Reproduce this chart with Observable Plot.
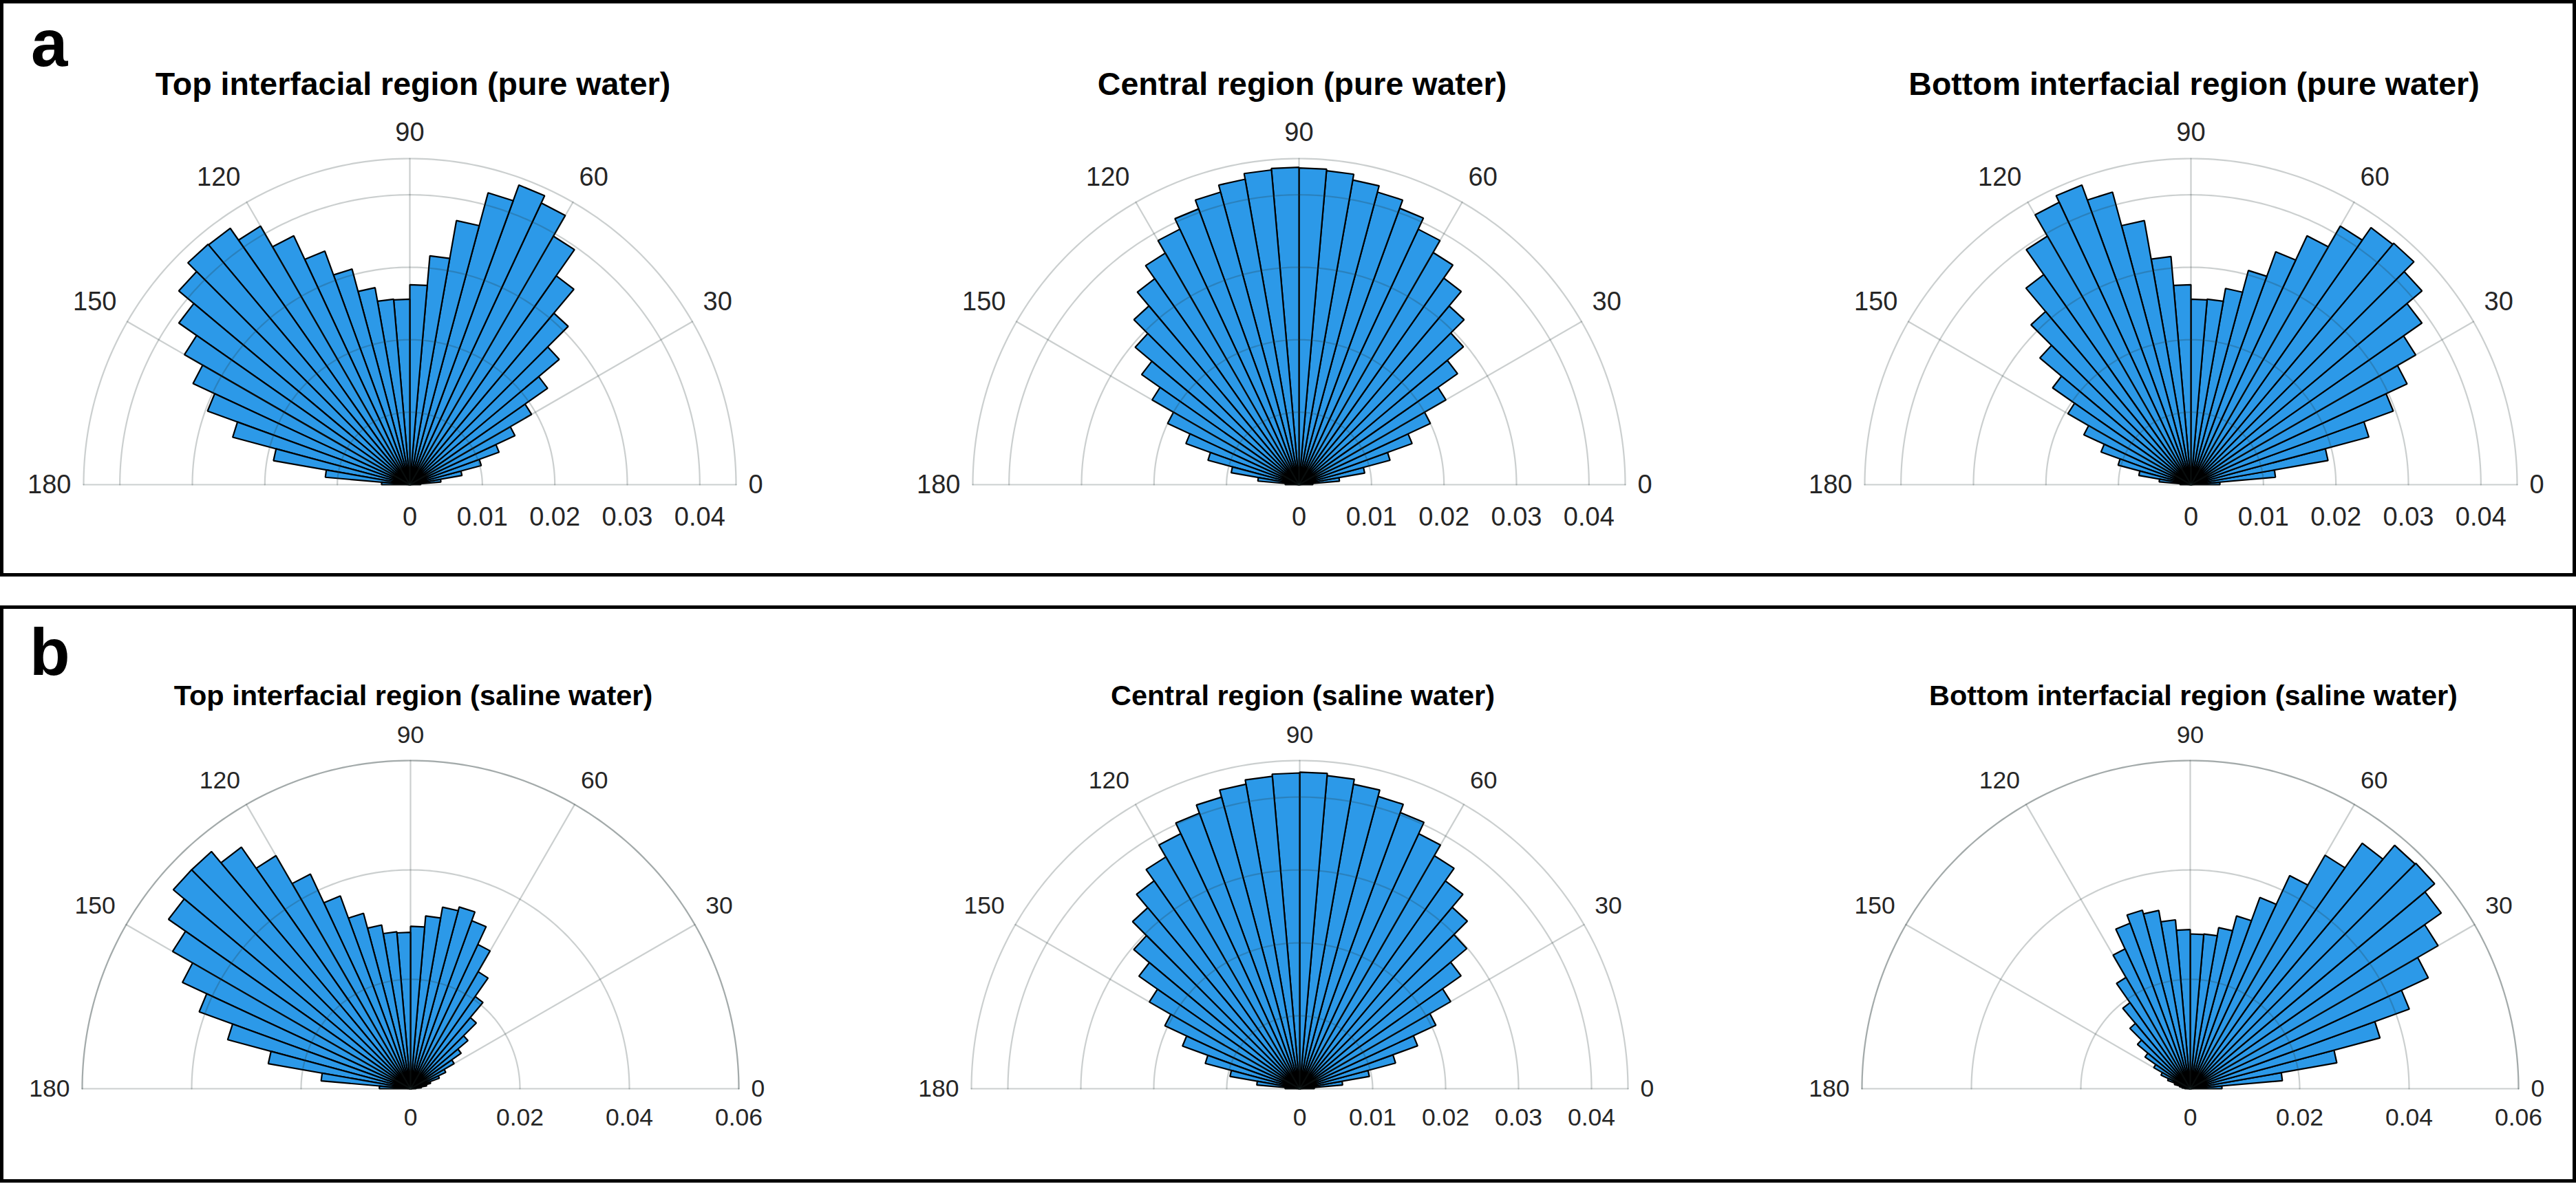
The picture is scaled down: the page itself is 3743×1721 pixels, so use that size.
<!DOCTYPE html>
<html>
<head>
<meta charset="utf-8">
<script src="https://cdn.jsdelivr.net/npm/d3@7"></script>
<script src="https://cdn.jsdelivr.net/npm/@observablehq/plot@0.6"></script>
<style>
  html, body { margin: 0; padding: 0; background: #fff; }
  body { width: 3743px; height: 1721px; position: relative; overflow: hidden;
         font-family: "Liberation Sans", Arial, Helvetica, sans-serif; }
  .box { position: absolute; left: 0; width: 3743px; box-sizing: border-box; border: 5px solid #000; }
  .panel { position: absolute; font-weight: bold; font-size: 96px; line-height: 1; color: #000; }
  .title { position: absolute; font-weight: bold; white-space: nowrap; line-height: 1; color: #000;
           transform: translateX(-50%); }
  .plot { position: absolute; }
  .plot svg { display: block; max-width: none !important; }
</style>
</head>
<body>
<script>
// ---------------- data ----------------
// bin start angles (degrees); each bin is 5 degrees wide
const binStart = [0, 5, 10, 15, 20, 25, 30, 35, 40, 45, 50, 55, 60, 65, 70, 75, 80, 85,
                  90, 95, 100, 105, 110, 115, 120, 125, 130, 135, 140, 145, 150, 155, 160, 165, 170, 175];
const binWidth = 5;

// probabilities per bin (pure water)
const topPure = [0.0015, 0.0043, 0.0073, 0.0102, 0.0131, 0.0160, 0.0194, 0.0232, 0.0269, 0.0309, 0.0352, 0.0396,
                 0.0429, 0.0440, 0.0417, 0.0370, 0.0317, 0.0276, 0.0256, 0.0257, 0.0276, 0.0308, 0.0343, 0.0379,
                 0.0412, 0.0432, 0.0433, 0.0416, 0.0389, 0.0359, 0.0330, 0.0297, 0.0253, 0.0191, 0.0117, 0.0039];
const centralPure = [0.0019, 0.0056, 0.0092, 0.0130, 0.0166, 0.0200, 0.0234, 0.0267, 0.0296, 0.0322, 0.0348, 0.0370,
                     0.0389, 0.0406, 0.0418, 0.0427, 0.0435, 0.0437, 0.0438, 0.0436, 0.0428, 0.0418, 0.0405, 0.0389,
                     0.0369, 0.0347, 0.0322, 0.0295, 0.0265, 0.0234, 0.0200, 0.0166, 0.0130, 0.0095, 0.0057, 0.0019];
const bottomPure = [0.0040, 0.0117, 0.0192, 0.0254, 0.0297, 0.0329, 0.0358, 0.0389, 0.0416, 0.0435, 0.0433, 0.0412,
                    0.0379, 0.0342, 0.0306, 0.0275, 0.0257, 0.0256, 0.0276, 0.0316, 0.0370, 0.0418, 0.0440, 0.0430,
                    0.0396, 0.0354, 0.0312, 0.0272, 0.0233, 0.0196, 0.0163, 0.0132, 0.0104, 0.0073, 0.0044, 0.0015];
// probabilities per bin (saline water)
const topSaline = [0.0010, 0.0020, 0.0030, 0.0038, 0.0056, 0.0071, 0.0092, 0.0113, 0.0137, 0.0170, 0.0206, 0.0247,
                   0.0291, 0.0327, 0.0344, 0.0337, 0.0317, 0.0297, 0.0286, 0.0288, 0.0304, 0.0332, 0.0375, 0.0433,
                   0.0492, 0.0539, 0.0566, 0.0566, 0.0540, 0.0502, 0.0460, 0.0411, 0.0346, 0.0264, 0.0164, 0.0057];
const centralSaline = [0.0020, 0.0059, 0.0097, 0.0136, 0.0172, 0.0206, 0.0239, 0.0270, 0.0299, 0.0325, 0.0348, 0.0369,
                       0.0386, 0.0403, 0.0415, 0.0424, 0.0431, 0.0434, 0.0433, 0.0430, 0.0424, 0.0414, 0.0402, 0.0386,
                       0.0367, 0.0348, 0.0324, 0.0297, 0.0269, 0.0238, 0.0204, 0.0171, 0.0134, 0.0097, 0.0059, 0.0020];
const bottomSaline = [0.0058, 0.0169, 0.0272, 0.0359, 0.0426, 0.0480, 0.0523, 0.0560, 0.0583, 0.0581, 0.0548, 0.0493,
                      0.0430, 0.0372, 0.0327, 0.0299, 0.0284, 0.0283, 0.0291, 0.0310, 0.0331, 0.0338, 0.0322, 0.0282,
                      0.0235, 0.0192, 0.0156, 0.0126, 0.0101, 0.0077, 0.0059, 0.0044, 0.0030, 0.0020, 0.0015, 0.0010];

const thetaTicks = [0, 30, 60, 90, 120, 150, 180];
const rTicksPure = [0, 0.01, 0.02, 0.03, 0.04];
const rTicksSaline = [0, 0.02, 0.04, 0.06];
const rLimPure = 0.045;
const rLimSaline = 0.06;

const panelLetters = ["a", "b"];
const titles = [
  ["Top interfacial region (pure water)", "Central region (pure water)", "Bottom interfacial region (pure water)"],
  ["Top interfacial region (saline water)", "Central region (saline water)", "Bottom interfacial region (saline water)"]
];
const series = [
  [topPure, centralPure, bottomPure],
  [topSaline, centralSaline, bottomSaline]
];
const rTicksByPlot = [
  [rTicksPure, rTicksPure, rTicksPure],
  [rTicksSaline, rTicksPure, rTicksSaline]
];
const rLimByPlot = [
  [rLimPure, rLimPure, rLimPure],
  [rLimSaline, rLimPure, rLimSaline]
];

// ---------------- layout / style ----------------
const FONT = '"Liberation Sans", Arial, Helvetica, sans-serif';
const BAR_FILL = "#2c99e8";
const GRID = "#243838";
const TEXT = "#262626";
const rows = [
  { boxTop: 0, boxH: 838, letterTop: 15, letterLeft: 45, titleBaseline: 138, titleFs: 46.5,
    cy: 703.5, R: 474, cxs: [595, 1887, 3183], fs: 38, tickDy: 47 },
  { boxTop: 880, boxH: 839, letterTop: 900, letterLeft: 43, titleBaseline: 1025, titleFs: 41.5,
    cy: 1581.5, R: 477, cxs: [595.5, 1888, 3182], fs: 35.5, tickDy: 42.5 }
];
const MX = 140, MT = 110, MB = 85;
const DEG = Math.PI / 180;

function arcPoints(r) {
  const pts = [];
  for (let a = 0; a <= 180; a += 1) pts.push([r * Math.cos(a * DEG), r * Math.sin(a * DEG)]);
  return pts;
}

function polarHistogram({values, rmax, rTicks, R, fs, tickDy}) {
  const bars = binStart.map((a0, i) => {
    const a1 = a0 + binWidth, r = values[i];
    return {type: "Polygon", coordinates: [[
      [0, 0],
      [r * Math.cos(a0 * DEG), r * Math.sin(a0 * DEG)],
      [r * Math.cos(a1 * DEG), r * Math.sin(a1 * DEG)],
      [0, 0]
    ]]};
  });
  const rings = rTicks.filter(t => t > 0).concat([rmax])
    .map(r => ({type: "LineString", coordinates: arcPoints(r)}));
  const spokes = thetaTicks.map(t => ({type: "LineString",
    coordinates: [[0, 0], [rmax * Math.cos(t * DEG), rmax * Math.sin(t * DEG)]]}));

  // angle labels anchored a fixed pixel gap outside the outer arc
  const ra = rmax * (1 + 18 / R);
  const labels = thetaTicks.map(t => ({t, x: ra * Math.cos(t * DEG), y: ra * Math.sin(t * DEG)}));
  const desc = 0.21 * fs;
  const groups = [
    {f: t => t === 0, textAnchor: "start", lineAnchor: "middle", dy: 0},
    {f: t => t > 0 && t < 90, textAnchor: "start", lineAnchor: "bottom", dy: -desc},
    {f: t => t === 90, textAnchor: "middle", lineAnchor: "bottom", dy: -desc},
    {f: t => t > 90 && t < 180, textAnchor: "end", lineAnchor: "bottom", dy: -desc},
    {f: t => t === 180, textAnchor: "end", lineAnchor: "middle", dy: 0}
  ];

  const W = 2 * R + 2 * MX, H = R + MT + MB;
  return Plot.plot({
    width: W,
    height: H,
    marginLeft: MX, marginRight: MX, marginTop: MT, marginBottom: MB,
    projection: {
      type: "reflect-y",
      domain: {type: "MultiPoint", coordinates: [[-rmax, 0], [rmax, rmax]]},
      clip: false
    },
    style: {fontFamily: FONT, fontSize: fs + "px", background: "transparent", overflow: "visible",
            color: TEXT, maxWidth: "none", width: W + "px", height: H + "px"},
    marks: [
      Plot.geo(bars, {fill: BAR_FILL, stroke: "#000", strokeWidth: 2.2, strokeLinejoin: "miter"}),
      Plot.geo(rings.concat(spokes), {stroke: GRID, strokeOpacity: 0.24, strokeWidth: 2.2}),
      ...groups.map(g => Plot.text(labels.filter(d => g.f(d.t)), {
        x: "x", y: "y", text: d => String(d.t),
        textAnchor: g.textAnchor, lineAnchor: g.lineAnchor, dy: g.dy,
        fontSize: fs, fill: TEXT, fontFamily: FONT
      })),
      Plot.text(rTicks, {
        x: d => d, y: () => 0, text: d => String(d), dy: tickDy,
        fontSize: fs, fill: TEXT, fontFamily: FONT
      })
    ]
  });
}

// ---------------- build page ----------------
rows.forEach((row, ri) => {
  const box = document.createElement("div");
  box.className = "box";
  box.style.top = row.boxTop + "px";
  box.style.height = row.boxH + "px";
  document.body.appendChild(box);

  const letter = document.createElement("div");
  letter.className = "panel";
  letter.style.top = row.letterTop + "px";
  letter.style.left = row.letterLeft + "px";
  letter.textContent = panelLetters[ri];
  document.body.appendChild(letter);

  row.cxs.forEach((cx, ci) => {
    const t = document.createElement("div");
    t.className = "title";
    t.style.fontSize = row.titleFs + "px";
    t.style.top = (row.titleBaseline - 0.8465 * row.titleFs) + "px";
    t.style.left = (cx + 5) + "px";
    t.textContent = titles[ri][ci];
    document.body.appendChild(t);

    const W = 2 * row.R + 2 * MX, H = row.R + MT + MB;
    const holder = document.createElement("div");
    holder.className = "plot";
    holder.style.left = (cx - row.R - MX) + "px";
    holder.style.top = (row.cy - row.R - MT) + "px";
    holder.style.width = W + "px";
    holder.style.height = H + "px";
    holder.appendChild(polarHistogram({
      values: series[ri][ci],
      rmax: rLimByPlot[ri][ci],
      rTicks: rTicksByPlot[ri][ci],
      R: row.R, fs: row.fs, tickDy: row.tickDy
    }));
    document.body.appendChild(holder);
  });
});
</script>
</body>
</html>
